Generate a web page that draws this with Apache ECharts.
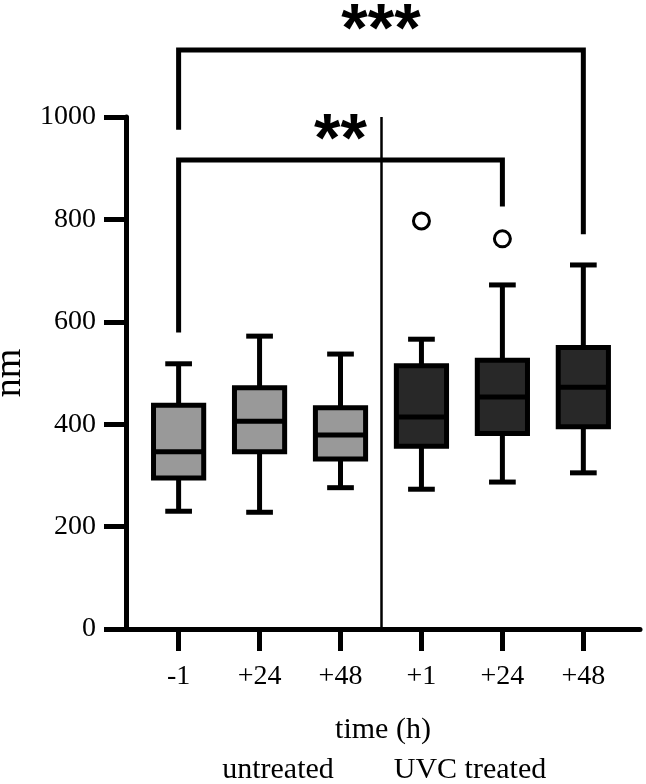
<!DOCTYPE html>
<html><head><meta charset="utf-8">
<script src="https://cdn.jsdelivr.net/npm/echarts@6/dist/echarts.min.js"></script>
<style>html,body{margin:0;padding:0;background:#fff}#c{width:646px;height:784px}</style>
</head><body><div id="c"></div>
<script>
// ---- data ----
const categories = ['-1', '+24', '+48', '+1', '+24', '+48'];
const groupNames = ['untreated', 'UVC treated'];
const groupOf = [0, 0, 0, 1, 1, 1];
const whiskerLow = [230, 228, 276, 273, 287, 305];
const q1 = [295, 346, 332, 357, 382, 395];
const median = [346, 406, 379, 414, 453, 472];
const q3 = [437, 471, 432, 514, 525, 550];
const whiskerHigh = [518, 572, 537, 566, 672, 711];
const outlierX = [3, 4];
const outlierY = [797, 762];
const bracketFrom = [0, 0];
const bracketTo = [4, 5];
const bracketTop = [916, 1131];
const bracketLeftEnd = [579, 975];
const bracketRightEnd = [825, 771];
const bracketLabels = ['**', '***'];
const groupSplit = 2.5;

const SERIF = '"Liberation Serif", "Times New Roman", serif';
const groupFill = ['#999999', '#282828'];

const boxData = categories.map((c, i) => [i, whiskerLow[i], q1[i], median[i], q3[i], whiskerHigh[i]]);
const outlierData = outlierX.map((x, i) => [x, outlierY[i]]);
const bracketData = bracketFrom.map((f, i) => [f, bracketTo[i], bracketTop[i], bracketLeftEnd[i], bracketRightEnd[i]]);
const catTicks = categories.map((c, i) => i);

function renderBox(params, api) {
  const x = api.value(0);
  const p = v => api.coord([x, v]);
  const lo = p(api.value(1)), b1 = p(api.value(2)), md = p(api.value(3)), b3 = p(api.value(4)), hi = p(api.value(5));
  const unit = api.size([1, 0])[0];
  const bw = unit * 0.62, cw = unit * 0.33;
  const cx = lo[0];
  const fill = groupFill[groupOf[params.dataIndex]];
  const ls = { stroke: '#000', lineWidth: 5, lineCap: 'butt', fill: 'none' };
  return {
    type: 'group',
    children: [
      { type: 'line', shape: { x1: cx, y1: lo[1], x2: cx, y2: b1[1] }, style: ls },
      { type: 'line', shape: { x1: cx, y1: b3[1], x2: cx, y2: hi[1] }, style: ls },
      { type: 'line', shape: { x1: cx - cw / 2, y1: lo[1], x2: cx + cw / 2, y2: lo[1] }, style: ls },
      { type: 'line', shape: { x1: cx - cw / 2, y1: hi[1], x2: cx + cw / 2, y2: hi[1] }, style: ls },
      { type: 'rect', shape: { x: cx - bw / 2, y: b3[1], width: bw, height: b1[1] - b3[1] }, style: { fill: fill, stroke: '#000', lineWidth: 5 } },
      { type: 'line', shape: { x1: cx - bw / 2, y1: md[1], x2: cx + bw / 2, y2: md[1] }, style: ls }
    ]
  };
}

function renderBracket(params, api) {
  const a = api.coord([api.value(0), api.value(3)]);
  const b = api.coord([api.value(0), api.value(2)]);
  const c = api.coord([api.value(1), api.value(2)]);
  const d = api.coord([api.value(1), api.value(4)]);
  return {
    type: 'group',
    children: [
      { type: 'polyline', shape: { points: [a, b, c, d] }, style: { stroke: '#000', lineWidth: 5, fill: 'none', lineJoin: 'miter' } },
      { type: 'text', x: (b[0] + c[0]) / 2, y: b[1] - 18,
        style: { text: bracketLabels[params.dataIndex], font: 'bold 68px "Liberation Sans", Arial, sans-serif', fill: '#000', align: 'center', verticalAlign: 'middle' } }
    ]
  };
}

const chart = echarts.init(document.getElementById('c'), null, { renderer: 'canvas' });
chart.setOption({
  animation: false,
  backgroundColor: '#fff',
  grid: { left: 126, right: 6, top: 117, bottom: 155, containLabel: false, outerBoundsMode: 'none' },
  xAxis: {
    type: 'value', min: -0.65, max: 5.7,
    axisLine: { show: true, onZero: false, lineStyle: { color: '#000', width: 5 } },
    axisTick: { show: true, customValues: catTicks, length: 22, lineStyle: { color: '#000', width: 5 } },
    axisLabel: { show: true, customValues: catTicks, formatter: v => categories[Math.round(v)], color: '#000', fontFamily: SERIF, fontSize: 28, margin: 34 },
    splitLine: { show: false },
    name: 'time (h)', nameLocation: 'middle', nameGap: 86,
    nameTextStyle: { color: '#000', fontFamily: SERIF, fontSize: 30 }
  },
  yAxis: {
    type: 'value', min: 0, max: 1000, interval: 200,
    axisLine: { show: true, onZero: false, lineStyle: { color: '#000', width: 5 } },
    axisTick: { show: true, length: 22, lineStyle: { color: '#000', width: 5 } },
    axisLabel: { color: '#000', fontFamily: SERIF, fontSize: 28, margin: 30, formatter: v => String(v) },
    splitLine: { show: false },
    name: 'nm', nameLocation: 'middle', nameGap: 86,
    nameTextStyle: { color: '#000', fontFamily: SERIF, fontSize: 38 }
  },
  graphic: [
    { type: 'text', x: 278, y: 770, style: { text: groupNames[0], font: '30px ' + SERIF, fill: '#000', align: 'center', verticalAlign: 'middle' } },
    { type: 'text', x: 470, y: 770, style: { text: groupNames[1], font: '30px ' + SERIF, fill: '#000', align: 'center', verticalAlign: 'middle' } }
  ],
  series: [
    { type: 'custom', name: 'boxes', renderItem: renderBox, data: boxData, encode: { x: 0, y: [1, 2, 3, 4, 5] }, z: 3, silent: true },
    { type: 'scatter', name: 'outliers', data: outlierData, symbol: 'circle', symbolSize: 16,
      itemStyle: { color: '#fff', borderColor: '#000', borderWidth: 3, opacity: 1 }, z: 4, silent: true,
      markLine: { silent: true, symbol: ['none', 'none'], label: { show: false },
        lineStyle: { color: '#000', width: 2.5, type: 'solid', opacity: 1 }, emphasis: { disabled: true },
        data: [{ xAxis: groupSplit }] } },
    { type: 'custom', name: 'brackets', renderItem: renderBracket, data: bracketData, clip: false,
      encode: { x: [0, 1], y: [2, 3, 4] }, z: 5, silent: true }
  ]
});
</script></body></html>
